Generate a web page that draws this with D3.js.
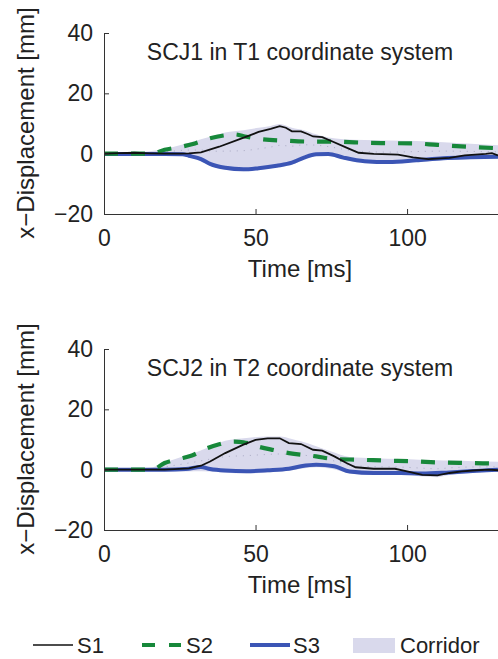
<!DOCTYPE html>
<html>
<head>
<meta charset="utf-8">
<script src="https://cdn.jsdelivr.net/npm/d3@7"></script>
<style>
  body { margin: 0; background: #fff; }
  svg { display: block; font-family: "Liberation Sans", Arial, sans-serif; }
  .axis path, .axis line { stroke: #333; }
  .axis text { fill: #222; font-size: 23px; }
</style>
</head>
<body>
<svg id="chart" width="498" height="659"></svg>
<script>
// x ticks / y ticks
var xTicks = [0, 50, 100];
var yTicks = [-20, 0, 20, 40];

// ---- panel 1 : SCJ1 in T1 ----
var p1_title = "SCJ1 in T1 coordinate system";
var p1_s1_t = [0, 5, 10, 15, 20, 25, 28, 32, 38, 45, 51, 55, 58, 60, 62, 65, 67, 69, 72, 75, 80, 84, 89, 97, 102, 107, 114, 119, 126, 128, 130];
var p1_s1_v = [0, 0.2, 0.3, 0.1, 0, 0, 0.1, 0.4, 2.3, 4.9, 7.2, 8.2, 9.1, 8.6, 7.4, 7.4, 6.6, 5.7, 5.5, 4.2, 2.0, 0.3, -0.1, -0.3, -1.2, -1.8, -1.4, -0.6, -0.1, 0.2, -0.6];
var p1_s2_t = [0, 10, 16, 20, 25, 30, 35, 40, 43, 47, 52, 60, 68, 76, 84, 93, 102, 110, 120, 130];
var p1_s2_v = [0, 0, 0.1, 1.3, 2.2, 3.4, 5.1, 6.1, 6.4, 5.6, 4.8, 4.3, 4.0, 4.0, 3.7, 3.5, 3.4, 2.9, 2.3, 1.8];
var p1_s3_t = [0, 10, 20, 26, 28, 32, 35, 40, 46, 51, 57, 62, 66, 70, 74, 79, 86, 94, 103, 112, 121, 130];
var p1_s3_v = [-0.1, -0.1, -0.1, -0.2, -0.7, -1.8, -3.4, -4.7, -5.2, -4.8, -4.0, -3.0, -1.3, -0.2, -0.1, -1.3, -2.5, -2.8, -2.2, -1.5, -1.2, -1.0];
var p1_corr_t = [0, 10, 20, 25, 28, 32, 35, 40, 46, 51, 55, 58, 62, 66, 70, 74, 79, 86, 94, 103, 112, 121, 130];
var p1_corr_hi = [0.3, 0.4, 1.6, 2.8, 3.6, 4.8, 5.6, 7.0, 7.8, 8.6, 9.2, 9.8, 8.6, 7.8, 6.4, 5.4, 4.8, 4.5, 4.4, 4.2, 3.8, 3.3, 2.8];
var p1_corr_lo = [-0.6, -0.6, -0.6, -0.7, -1.2, -2.4, -4.0, -5.3, -5.8, -5.4, -4.8, -4.3, -3.6, -1.9, -0.8, -0.7, -1.9, -3.1, -3.4, -2.8, -2.1, -1.8, -1.6];

// ---- panel 2 : SCJ2 in T2 ----
var p2_title = "SCJ2 in T2 coordinate system";
var p2_s1_t = [0, 10, 20, 28, 32, 35, 40, 46, 50, 54, 58, 61, 65, 69, 72, 76, 80, 83, 89, 96, 100, 105, 110, 114, 118, 123, 127, 130];
var p2_s1_v = [0, 0, 0, 0.4, 1.3, 2.7, 5.5, 8.3, 9.9, 10.4, 10.4, 8.8, 8.5, 6.6, 6.3, 4.4, 2.2, 0.8, 0.3, 0.3, -0.6, -1.7, -1.9, -1.1, -0.6, -0.2, 0, -0.2];
var p2_s2_t = [0, 10, 16, 20, 25, 29, 34, 38, 43, 46, 51, 56, 61, 70, 76, 84, 93, 102, 110, 120, 130];
var p2_s2_v = [0, 0, 0.1, 2.2, 3.6, 4.7, 7.1, 8.4, 9.3, 9.1, 7.6, 6.5, 5.5, 4.4, 3.5, 3.3, 3.0, 2.8, 2.4, 2.2, 2.0];
var p2_s3_t = [0, 10, 20, 27, 32, 35, 40, 47, 54, 61, 65, 70, 76, 81, 89, 98, 105, 114, 123, 130];
var p2_s3_v = [0, 0, 0, 0.2, 0.9, 0.2, -0.3, -0.5, -0.2, 0.3, 1.1, 1.6, 1.1, -0.6, -1.1, -1.1, -1.3, -0.9, -0.4, 0];
var p2_corr_t = [0, 10, 15, 20, 25, 30, 35, 40, 47, 54, 58, 62, 65, 70, 75, 81, 89, 98, 104, 110, 114, 122, 130];
var p2_corr_hi = [0.4, 0.4, 0.6, 2.4, 4.0, 5.6, 7.6, 9.6, 10.5, 11.0, 11.0, 10.2, 9.4, 7.8, 6.0, 4.2, 3.8, 3.5, 3.3, 3.1, 3.0, 2.8, 2.6];
var p2_corr_lo = [-0.6, -0.6, -0.6, -0.6, -0.6, -0.5, -0.6, -1.0, -1.2, -0.9, -0.6, -0.2, 0.3, 0.8, 0.3, -1.2, -1.8, -1.8, -2.2, -2.5, -1.8, -1.0, -0.7];

// legend
var legendNames = ["S1", "S2", "S3", "Corridor"];

var colS1 = "#111";
var colS2 = "#17883a";
var colS3 = "#3b55b5";
var colCorr = "#d9d9ec";

var svg = d3.select("#chart");

var x = d3.scaleLinear().domain([0, 130]).range([104, 498]);

function zip(t, v) { return t.map(function(d, i) { return [d, v[i]]; }); }

function drawPanel(top, title, s1t, s1v, s2t, s2v, s3t, s3v, ct, chi, clo) {
  var y = d3.scaleLinear().domain([-20, 40]).range([top + 181, top]);
  var g = svg.append("g");

  // corridor band
  var corr = ct.map(function(d, i) { return { t: d, hi: chi[i], lo: clo[i] }; });
  g.append("path")
    .datum(corr)
    .attr("fill", colCorr)
    .attr("d", d3.area().curve(d3.curveMonotoneX)
      .x(function(d) { return x(d.t); })
      .y0(function(d) { return y(d.lo); })
      .y1(function(d) { return y(d.hi); }));
  // corridor mean (faint dotted)
  g.append("path")
    .datum(corr)
    .attr("fill", "none")
    .attr("stroke", "#aaaac4")
    .attr("stroke-width", 1)
    .attr("stroke-dasharray", "1,6")
    .attr("d", d3.line().curve(d3.curveMonotoneX)
      .x(function(d) { return x(d.t); })
      .y(function(d) { return y((d.hi + d.lo) / 2); }));

  var line = d3.line().curve(d3.curveMonotoneX)
    .x(function(d) { return x(d[0]); })
    .y(function(d) { return y(d[1]); });

  g.append("path").datum(zip(s3t, s3v))
    .attr("fill", "none").attr("stroke", colS3).attr("stroke-width", 4)
    .attr("d", line);
  g.append("path").datum(zip(s2t, s2v))
    .attr("fill", "none").attr("stroke", colS2).attr("stroke-width", 4.2)
    .attr("stroke-dasharray", "14,13")
    .attr("d", line);
  g.append("path").datum(zip(s1t, s1v))
    .attr("fill", "none").attr("stroke", colS1).attr("stroke-width", 1.8)
    .attr("d", d3.line().x(function(d) { return x(d[0]); }).y(function(d) { return y(d[1]); }));

  // axes
  g.append("g").attr("class", "axis")
    .attr("transform", "translate(0," + (top + 181) + ")")
    .call(d3.axisBottom(x).tickValues(xTicks).tickSizeInner(-5).tickSizeOuter(0).tickPadding(16));
  g.append("g").attr("class", "axis")
    .attr("transform", "translate(104,0)")
    .call(d3.axisLeft(y).tickValues(yTicks).tickSizeInner(-5).tickSizeOuter(0).tickPadding(11)
      .tickFormat(function(d) { return d < 0 ? "\u2212" + Math.abs(d) : d; }));

  g.append("text")
    .attr("x", 300).attr("y", top + 27)
    .attr("text-anchor", "middle")
    .style("font-size", "23px").attr("fill", "#222")
    .text(title);

  g.append("text")
    .attr("x", 300).attr("y", top + 244)
    .attr("text-anchor", "middle")
    .style("font-size", "24px").attr("fill", "#222")
    .text("Time [ms]");

  g.append("text")
    .attr("transform", "translate(34," + (top + 90) + ") rotate(-90)")
    .attr("text-anchor", "middle")
    .style("font-size", "24px").attr("fill", "#222")
    .text("x\u2212Displacement [mm]");
}

drawPanel(33, p1_title, p1_s1_t, p1_s1_v, p1_s2_t, p1_s2_v, p1_s3_t, p1_s3_v, p1_corr_t, p1_corr_hi, p1_corr_lo);
drawPanel(349, p2_title, p2_s1_t, p2_s1_v, p2_s2_t, p2_s2_v, p2_s3_t, p2_s3_v, p2_corr_t, p2_corr_hi, p2_corr_lo);

// legend
var lg = svg.append("g");
var ly = 645;
lg.append("line").attr("x1", 33).attr("x2", 73).attr("y1", ly).attr("y2", ly)
  .attr("stroke", colS1).attr("stroke-width", 1.6);
lg.append("line").attr("x1", 142).attr("x2", 181).attr("y1", ly).attr("y2", ly)
  .attr("stroke", colS2).attr("stroke-width", 4).attr("stroke-dasharray", "13,14");
lg.append("line").attr("x1", 250).attr("x2", 290).attr("y1", ly).attr("y2", ly)
  .attr("stroke", colS3).attr("stroke-width", 4);
lg.append("rect").attr("x", 353).attr("y", 638).attr("width", 42).attr("height", 15)
  .attr("fill", colCorr);
var lx = [77, 186, 293, 400];
lg.selectAll("text.leg").data(legendNames).enter().append("text")
  .attr("class", "leg")
  .attr("x", function(d, i) { return lx[i]; })
  .attr("y", 653)
  .style("font-size", "22px").attr("fill", "#222")
  .text(function(d) { return d; });
</script>
</body>
</html>
